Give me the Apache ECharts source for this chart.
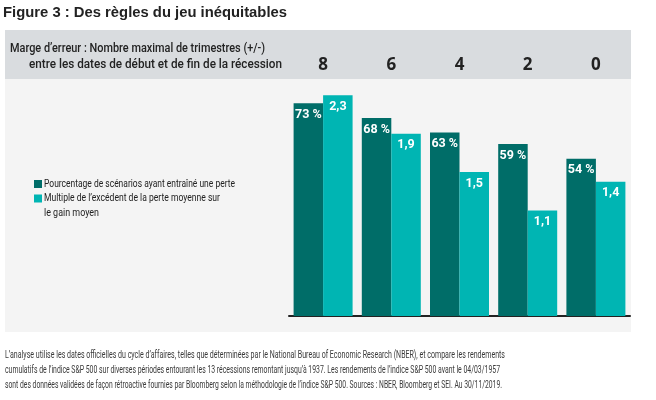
<!DOCTYPE html>
<html>
<head>
<meta charset="utf-8">
<script src="https://cdn.jsdelivr.net/npm/echarts@6/dist/echarts.min.js"></script>
<style>
html,body{margin:0;padding:0;background:#fff;}
#chart{width:656px;height:400px;}
</style>
</head>
<body>
<div id="chart"></div>
<script>
const categories = ['8', '6', '4', '2', '0'];
const seriesNames = [
  'Pourcentage de scénarios ayant entraîné une perte',
  'Multiple de l\u2019excédent de la perte moyenne sur\nle gain moyen'
];
const lossPct = [73, 68, 63, 59, 54];
const lossMultiple = [2.3, 1.9, 1.5, 1.1, 1.4];
const titleText = 'Figure 3 : Des règles du jeu inéquitables';
const headerLine1 = 'Marge d\u2019erreur : Nombre maximal de trimestres (+/-)';
const headerLine2 = 'entre les dates de début et de fin de la récession';
const footnoteLines = [
  'L\u2019analyse utilise les dates officielles du cycle d\u2019affaires, telles que déterminées par le National Bureau of Economic Research (NBER), et compare les rendements',
  'cumulatifs de l\u2019indice S&P 500 sur diverses périodes entourant les 13 récessions remontant jusqu\u2019à 1937. Les rendements de l\u2019indice S&P 500 avant le 04/03/1957',
  'sont des données validées de façon rétroactive fournies par Bloomberg selon la méthodologie de l\u2019indice S&P 500. Sources : NBER, Bloomberg et SEI. Au 30/11/2019.'
];

const DARK = '#006d68';
const LIGHT = '#00b5b3';
const COND = 'Roboto, "Liberation Sans", sans-serif';

// text width measurement, used only to condense text horizontally to the reference's narrow typeface
const ctx = document.createElement('canvas').getContext('2d');
function fitText(text, font, targetWidth) {
  ctx.font = font;
  const w = ctx.measureText(text).width;
  return w > 0 ? targetWidth / w : 1;
}
function condensedText(text, x, y, font, targetWidth, fill, align) {
  return {
    type: 'text', x: x, y: y, silent: true,
    scaleX: fitText(text, font, targetWidth), scaleY: 1,
    style: {text: text, font: font, fill: fill, textAlign: align || 'left', textVerticalAlign: 'middle', verticalAlign: 'middle'}
  };
}

const headerFont = '500 13px ' + COND;
const footFont = '10.5px ' + COND;
const legendFont = '11px ' + COND;
const titleFont = 'bold 15px "Liberation Sans", Arial, sans-serif';

const legendLines = seriesNames[0].split('\n').concat(seriesNames[1].split('\n'));
const legendWidths = [191, 176, 55];
const legendYs = [184, 198.5, 213];
const footWidths = [500, 495, 497];

const graphics = [
  {type: 'rect', z: -10, silent: true, shape: {x: 5, y: 30, width: 626, height: 49}, style: {fill: '#d9dcdf'}},
  {type: 'rect', z: -10, silent: true, shape: {x: 5, y: 79, width: 626, height: 253}, style: {fill: '#f4f4f4'}},
  condensedText(titleText, 3, 13, titleFont, 284, '#222', 'left'),
  condensedText(headerLine1, 10, 49, headerFont, 255, '#222', 'left'),
  condensedText(headerLine2, 282, 65, headerFont, 253, '#222', 'right')
];
footnoteLines.forEach((t, i) => graphics.push(condensedText(t, 5, 355 + i * 15, footFont, footWidths[i], '#3a3a3a', 'left')));
legendLines.forEach((t, i) => graphics.push(condensedText(t, 44, legendYs[i], legendFont, legendWidths[i], '#222', 'left')));

const chart = echarts.init(document.getElementById('chart'), null, {renderer: 'canvas'});

const option = {
  animation: false,
  backgroundColor: '#ffffff',
  graphic: graphics,
  legend: {
    orient: 'vertical',
    left: 34,
    top: 180,
    padding: 0,
    icon: 'rect',
    itemWidth: 8,
    itemHeight: 8,
    itemGap: 6.5,
    selectedMode: false,
    formatter: () => '',
    textStyle: {fontSize: 1},
    data: seriesNames
  },
  grid: {left: 289, right: 26, top: 80, bottom: 84, containLabel: false},
  xAxis: [
    {
      type: 'category', data: categories, position: 'bottom',
      axisLine: {show: true, lineStyle: {color: '#222', width: 2}},
      axisTick: {show: false}, axisLabel: {show: false}
    },
    {
      type: 'category', data: categories, position: 'top',
      axisLine: {show: false}, axisTick: {show: false},
      axisLabel: {show: true, margin: 6, fontSize: 17, fontWeight: 'bold', fontFamily: '"Open Sans", sans-serif', color: '#222'}
    }
  ],
  yAxis: [
    {type: 'value', min: 0, max: 81, show: false, splitLine: {show: false}},
    {type: 'value', min: 0, max: 2.46, show: false, splitLine: {show: false}}
  ],
  series: [
    {
      name: seriesNames[0], type: 'bar', xAxisIndex: 0, yAxisIndex: 0,
      data: lossPct, barWidth: 29.5, barGap: '0%',
      itemStyle: {color: DARK},
      label: {show: true, position: 'insideTop', distance: 5, color: '#fff', fontWeight: 'bold', fontSize: 12.5, fontFamily: COND,
        formatter: p => p.value + ' %'}
    },
    {
      name: seriesNames[1], type: 'bar', xAxisIndex: 0, yAxisIndex: 1,
      data: lossMultiple, barWidth: 29.5, barGap: '0%',
      itemStyle: {color: LIGHT},
      label: {show: true, position: 'insideTop', distance: 5, color: '#fff', fontWeight: 'bold', fontSize: 12.5, fontFamily: COND,
        formatter: p => String(p.value).replace('.', ',')}
    }
  ]
};
chart.setOption(option);
</script>
</body>
</html>
